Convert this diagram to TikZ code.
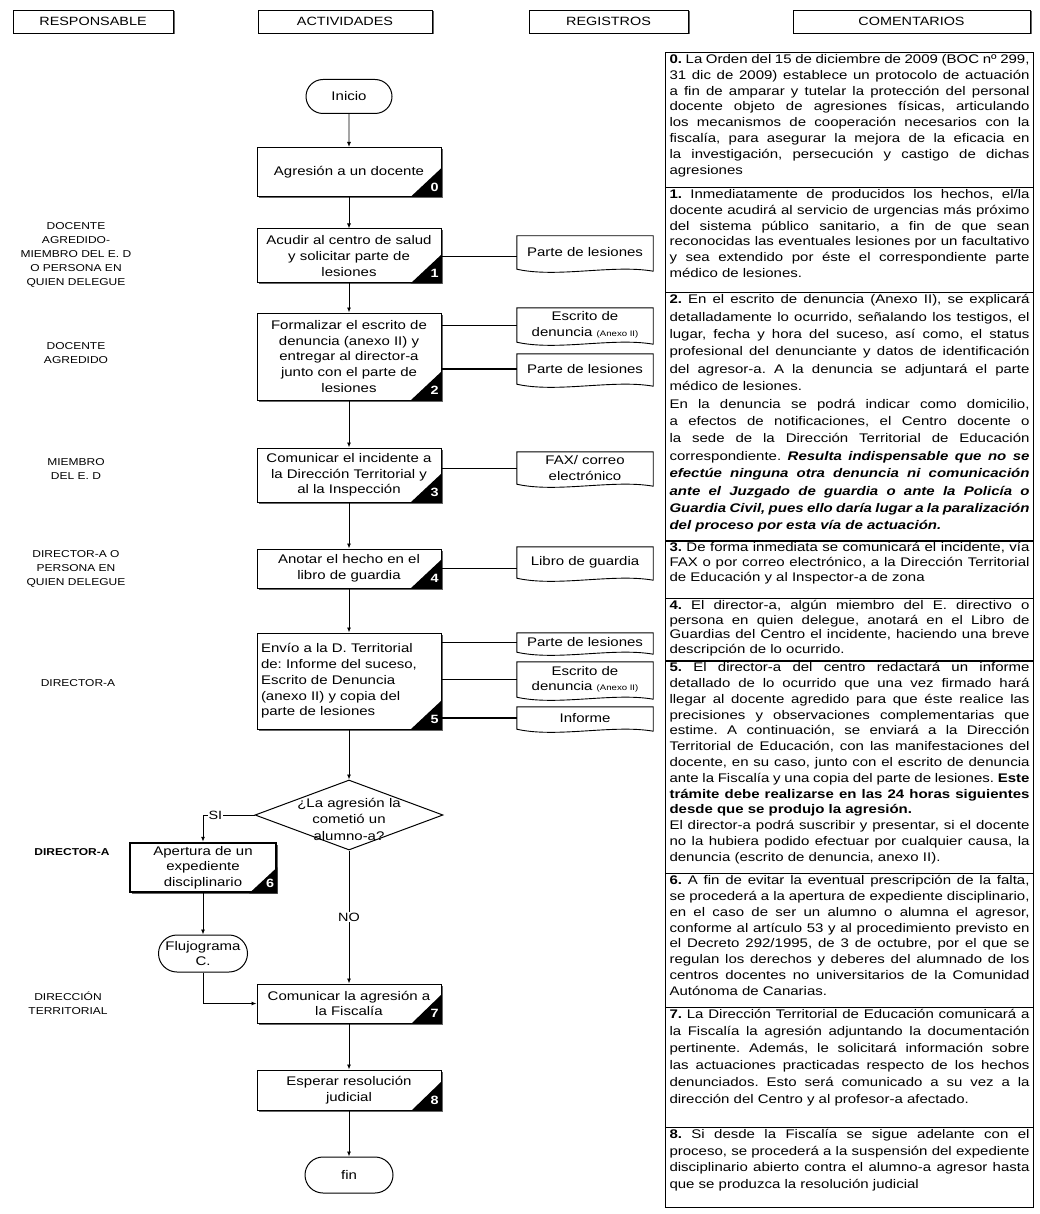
\documentclass[tikz,border=0pt]{standalone}
\usepackage{fontspec}
\setmainfont{Liberation Sans}[FakeStretch=1.2]
\usetikzlibrary{shapes.geometric,shapes.misc,arrows.meta,shadows}
\tolerance=9000
\emergencystretch=2em
\hyphenpenalty=10000
\frenchspacing
\newcommand{\renglon}[1]{\makebox[176pt][s]{#1}}

\begin{document}
\begin{tikzpicture}[x=1pt,y=-1pt,>={Latex[length=5pt,width=4pt]},
  sombra/.style={drop shadow={shadow xshift=1.5pt,shadow yshift=-1.5pt,fill=black!60,opacity=1}},
  cabecera/.style={draw,line width=0.9pt,fill=white,sombra,minimum width=#1,minimum height=23,inner sep=0pt,font=\fontsize{12}{14}\selectfont},
  responsable/.style={align=center,inner sep=0pt,font=\fontsize{10}{14}\selectfont},
  actividad/.style={draw,line width=1pt,fill=white,sombra,minimum width=184,minimum height=#1,text width=176,inner sep=0pt,align=center,font=\fontsize{12.5}{15.7}\selectfont},
  terminal/.style={draw,line width=1pt,fill=white,rounded rectangle,minimum width=#1,minimum height=34,inner sep=1pt,align=center,font=\fontsize{12.5}{15.5}\selectfont},
  registro/.style={minimum width=136,minimum height=#1,inner sep=1pt,align=center,font=\fontsize{12.5}{15.5}\selectfont},
  decision/.style={draw,line width=1pt,fill=white,diamond,minimum width=188,minimum height=70,inner sep=0pt},
  nota/.style={draw,line width=1pt,anchor=north west,minimum width=368,inner xsep=4pt,inner ysep=2pt,font=\fontsize{12.5}{15.8}\selectfont},
  flecha/.style={->,line width=0.9pt},
  enlace/.style={line width=0.9pt},
  numero/.style={text=white,inner sep=0pt,font=\bfseries\fontsize{12}{12}\selectfont}]
\path[fill=white,use as bounding box] (0,0) rectangle (1040,1214);

\node[cabecera=160] (h1) at (93,21.5) {RESPONSABLE};
\node[cabecera=174] (h2) at (345,21.5) {ACTIVIDADES};
\node[cabecera=159] (h3) at (608.5,21.5) {REGISTROS};
\node[cabecera=237] (h4) at (911.5,21.5) {COMENTARIOS};

\node[responsable] (resp1) at (76,255) {DOCENTE\\AGREDIDO-\\MIEMBRO DEL E. D\\O PERSONA EN\\QUIEN DELEGUE};
\node[responsable] (resp2) at (76,353.5) {DOCENTE\\AGREDIDO};
\node[responsable] (resp3) at (76,469.5) {MIEMBRO\\DEL E. D};
\node[responsable] (resp4) at (76,569) {DIRECTOR-A O\\PERSONA EN\\QUIEN DELEGUE};
\node[responsable] (resp5) at (78,683) {DIRECTOR-A};
\node[responsable,font=\bfseries\fontsize{10}{14}\selectfont] (resp6) at (72,852) {DIRECTOR-A};
\node[responsable] (resp7) at (68,1003.5) {DIRECCIÓN\\TERRITORIAL};

\node[terminal=88] (inicio) at (349,96.5) {Inicio};
\node[actividad=49] (a0) at (349,172) {Agresión a un docente};
\node[actividad=54] (a1) at (349,256) {Acudir al centro de salud\\y solicitar parte de\\lesiones};
\node[actividad=87] (a2) at (349,356.5) {Formalizar el escrito de\\denuncia (anexo II) y\\entregar al director-a\\junto con el parte de\\lesiones};
\node[actividad=54] (a3) at (349,475) {Comunicar el incidente a\\la Dirección Territorial y\\al la Inspección};
\node[actividad=39] (a4) at (349,568.5) {Anotar el hecho en el\\libro de guardia};
\node[actividad=96] (a5) at (349,681) {\renglon{Envío a la D. Territorial}\\\renglon{de: Informe del suceso,}\\\renglon{Escrito de Denuncia}\\\renglon{(anexo II) y copia del}\\\makebox[176pt][l]{parte de lesiones}};
\node[decision] (q) at (349,815) {};
\node[align=center,inner sep=0pt,font=\fontsize{12.5}{16.5}\selectfont] (qtexto) at (349,819) {¿La agresión la\\cometió un\\alumno-a?};
\node[actividad=49,minimum width=146,text width=138,line width=2.5pt] (a6) at (203,867.5) {Apertura de un\\expediente\\disciplinario};
\node[terminal=91,minimum height=37] (flujo) at (203,953.5) {Flujograma\\C.};
\node[actividad=39] (a7) at (349,1003.5) {Comunicar la agresión a\\la Fiscalía};
\node[actividad=40] (a8) at (349,1090) {Esperar resolución\\judicial};
\node[terminal=90,minimum height=36] (fin) at (349,1175) {fin};

\node[registro=33] (r1) at (585,252.5) {Parte de lesiones};
\node[registro=34] (r2a) at (585,325) {Escrito de\\denuncia {\fontsize{8}{9}\selectfont(Anexo II)}};
\node[registro=30] (r2b) at (585,369) {Parte de lesiones};
\node[registro=32] (r3) at (585,468) {FAX/ correo\\electrónico};
\node[registro=31] (r4) at (585,562.5) {Libro de guardia};
\node[registro=19] (r5a) at (585,642.5) {Parte de lesiones};
\node[registro=35] (r5b) at (585,679.5) {Escrito de\\denuncia {\fontsize{8}{9}\selectfont(Anexo II)}};
\node[registro=22] (r5c) at (585,718) {Informe};
\foreach \r in {r1,r2a,r2b,r3,r4,r5a,r5b,r5c}
  \draw[line width=0.9pt] (\r.north west) -- (\r.north east) -- ([yshift=-2pt]\r.south east) .. controls ([xshift=-40pt,yshift=5pt]\r.south east) and ([xshift=40pt,yshift=-9pt]\r.south west) .. (\r.south west) -- cycle;

\foreach \n/\k/\w/\h in {a0/0/31/29,a1/1/31/29,a2/2/31/29,a3/3/31/29,a4/4/31/29,a5/5/31/29,a6/6/28/26,a7/7/30/29,a8/8/30/29} {
  \fill ([xshift=-\w]\n.south east) -- (\n.south east) -- ([yshift=\h]\n.south east) -- cycle;
  \node[numero] (n\k) at ([xshift=-7pt,yshift=10pt]\n.south east) {\k};
}

\foreach \i/\j in {inicio/a0,a0/a1,a1/a2,a2/a3,a3/a4,a4/a5,a5/q,a7/a8,a8/fin}
  \draw[flecha] (\i) -- (\j);
\draw[flecha] (q.west) -| node[pos=0.38,fill=white,inner sep=1pt,font=\fontsize{12}{14}\selectfont] (si) {SI} (a6.north);
\draw[flecha] (q.south) -- node[fill=white,inner sep=1pt,font=\fontsize{12}{14}\selectfont] (no) {NO} (a7.north);
\draw[flecha] (a6.south) -- (flujo.north);
\draw[flecha] (flujo.south) |- (a7.west);

\draw[enlace] (a1.east) -- (a1.east -| r1.west);
\draw[enlace] (r2a.west -| a2.east) -- (r2a.west);
\draw[line width=1.6pt] (r2b.west -| a2.east) -- (r2b.west);
\draw[enlace] (r3.west -| a3.east) -- (r3.west);
\draw[enlace] (a4.east) -- (a4.east -| r4.west);
\draw[enlace] (r5a.west -| a5.east) -- (r5a.west);
\draw[enlace] (r5b.west -| a5.east) -- (r5b.west);
\draw[line width=1.6pt] (r5c.west -| a5.east) -- (r5c.west);

\node[nota] (c0) at (665,52) {\parbox[t][131pt][t]{360pt}{\textbf{0.} La Orden del 15 de diciembre de 2009 (BOC nº 299, 31 dic de 2009) establece un protocolo de actuación a fin de amparar y tutelar la protección del personal docente objeto de agresiones físicas, articulando los mecanismos de cooperación necesarios con la fiscalía, para asegurar la mejora de la eficacia en la investigación, persecución y castigo de dichas agresiones}};
\node[nota] (c1) at (665,187) {\parbox[t][101pt][t]{360pt}{\textbf{1.} Inmediatamente de producidos los hechos, el/la docente acudirá al servicio de urgencias más próximo del sistema público sanitario, a fin de que sean reconocidas las eventuales lesiones por un facultativo y sea extendido por éste el correspondiente parte médico de lesiones.}};
\node[nota,font=\fontsize{12.5}{17.4}\selectfont] (c2) at (665,292) {\parbox[t][244pt][t]{360pt}{\textbf{2.} En el escrito de denuncia (Anexo II), se explicará detalladamente lo ocurrido, señalando los testigos, el lugar, fecha y hora del suceso, así como, el status profesional del denunciante y datos de identificación del agresor-a. A la denuncia se adjuntará el parte médico de lesiones.\par En la denuncia se podrá indicar como domicilio, a efectos de notificaciones, el Centro docente o la sede de la Dirección Territorial de Educación correspondiente. \textbf{\textit{Resulta indispensable que no se efectúe ninguna otra denuncia ni comunicación ante el Juzgado de guardia o ante la Policía o Guardia Civil, pues ello daría lugar a la paralización del proceso por esta vía de actuación.}}}};
\node[nota,font=\fontsize{12.5}{15}\selectfont] (c3) at (665,540) {\parbox[t][54pt][t]{360pt}{\textbf{3.} De forma inmediata se comunicará el incidente, vía FAX o por correo electrónico, a la Dirección Territorial de Educación y al Inspector-a de zona}};
\node[nota,font=\fontsize{12.5}{14.6}\selectfont] (c4) at (665,598) {\parbox[t][58pt][t]{360pt}{\textbf{4.} El director-a, algún miembro del E. directivo o persona en quien delegue, anotará en el Libro de Guardias del Centro el incidente, haciendo una breve descripción de lo ocurrido.}};
\node[nota] (c5) at (665,660) {\parbox[t][209pt][t]{360pt}{\textbf{5.} El director-a del centro redactará un informe detallado de lo ocurrido que una vez firmado hará llegar al docente agredido para que éste realice las precisiones y observaciones complementarias que estime. A continuación, se enviará a la Dirección Territorial de Educación, con las manifestaciones del docente, en su caso, junto con el escrito de denuncia ante la Fiscalía y una copia del parte de lesiones. \textbf{Este trámite debe realizarse en las 24 horas siguientes desde que se produjo la agresión.}\par El director-a podrá suscribir y presentar, si el docente no la hubiera podido efectuar por cualquier causa, la denuncia (escrito de denuncia, anexo II).}};
\node[nota] (c6) at (665,873) {\parbox[t][130pt][t]{360pt}{\textbf{6.} A fin de evitar la eventual prescripción de la falta, se procederá a la apertura de expediente disciplinario, en el caso de ser un alumno o alumna el agresor, conforme al artículo 53 y al procedimiento previsto en el Decreto 292/1995, de 3 de octubre, por el que se regulan los derechos y deberes del alumnado de los centros docentes no universitarios de la Comunidad Autónoma de Canarias.}};
\node[nota,font=\fontsize{12.5}{17}\selectfont] (c7) at (665,1007) {\parbox[t][116pt][t]{360pt}{\textbf{7.} La Dirección Territorial de Educación comunicará a la Fiscalía la agresión adjuntando la documentación pertinente. Además, le solicitará información sobre las actuaciones practicadas respecto de los hechos denunciados. Esto será comunicado a su vez a la dirección del Centro y al profesor-a afectado.}};
\node[nota,font=\fontsize{12.5}{16.5}\selectfont] (c8) at (665,1127) {\parbox[t][76pt][t]{360pt}{\textbf{8.} Si desde la Fiscalía se sigue adelante con el proceso, se procederá a la suspensión del expediente disciplinario abierto contra el alumno-a agresor hasta que se produzca la resolución judicial}};
\draw[line width=2pt] (c2.south west) -- (c2.south east);
\draw[line width=2pt] (c4.south west) -- (c4.south east);
\end{tikzpicture}
\end{document}
